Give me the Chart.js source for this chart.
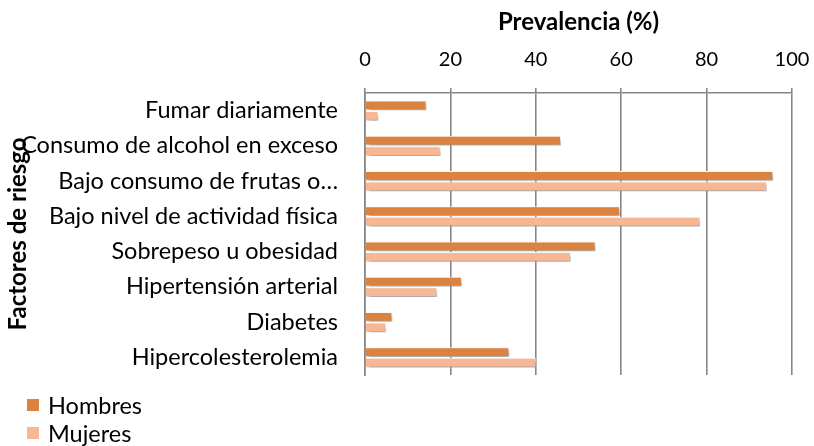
<!DOCTYPE html>
<html>
<head>
<meta charset="utf-8">
<script src="https://cdn.jsdelivr.net/npm/chart.js@4/dist/chart.umd.min.js"></script>
<style>
  html, body { margin: 0; padding: 0; background: #fff; }
  #wrap { position: relative; width: 814px; height: 446px; }
  #legend { position: absolute; left: 27px; top: 391px; font-family: Lato, sans-serif; font-size: 23.5px; color: #000; }
  .item { display: flex; align-items: center; height: 28px; }
  .sw { width: 12px; height: 12px; margin-right: 9px; }
</style>
</head>
<body>
<div id="wrap">
  <canvas id="c" width="814" height="446"></canvas>
  <div id="legend"></div>
</div>
<script>
const categories = [
  "Fumar diariamente",
  "Consumo de alcohol en exceso",
  "Bajo consumo de frutas o…",
  "Bajo nivel de actividad física",
  "Sobrepeso u obesidad",
  "Hipertensión arterial",
  "Diabetes",
  "Hipercolesterolemia"
];
const hombres = [14.4, 45.9, 95.6, 59.7, 54.0, 22.7, 6.4, 33.8];
const mujeres = [3.1, 17.7, 94.1, 78.5, 48.2, 16.9, 4.9, 40.0];
const seriesNames = ["Hombres", "Mujeres"];
const seriesColors = ["#DC823F", "#F8B692"];
const xTicks = [0, 20, 40, 60, 80, 100];

const FONT = "Lato, 'Open Sans', sans-serif";

const shadowPlugin = {
  id: 'barShadow',
  beforeDatasetsDraw(chart) {
    const ctx = chart.ctx;
    ctx.save();
    ctx.shadowColor = 'rgba(0,0,0,0.4)';
    ctx.shadowBlur = 5;
    ctx.shadowOffsetX = 2;
    ctx.shadowOffsetY = 3;
  },
  afterDatasetsDraw(chart) {
    chart.ctx.restore();
  }
};

const chart = new Chart(document.getElementById('c'), {
  type: 'bar',
  data: {
    labels: categories,
    datasets: [
      { label: seriesNames[0], data: hombres, backgroundColor: seriesColors[0], borderColor: '#fff', borderWidth: 1 },
      { label: seriesNames[1], data: mujeres, backgroundColor: seriesColors[1], borderColor: '#fff', borderWidth: 1 }
    ]
  },
  plugins: [shadowPlugin],
  options: {
    indexAxis: 'y',
    responsive: false,
    animation: false,
    maintainAspectRatio: false,
    layout: { padding: { left: 0, right: 22, top: 0, bottom: 71 } },
    datasets: { bar: { categoryPercentage: 0.6, barPercentage: 0.92 } },
    plugins: {
      legend: { display: false },
      tooltip: { enabled: false }
    },
    scales: {
      x: {
        position: 'top',
        min: 0, max: 100,
        afterBuildTicks(scale) { scale.ticks = xTicks.map(v => ({ value: v })); },
        afterFit(scale) { scale.height = 93; scale.paddingRight = 0; scale.paddingLeft = 0; },
        ticks: { color: '#000', font: { family: FONT, size: 20 }, padding: 16 },
        grid: { color: '#868686', lineWidth: 1.6, tickLength: 5, drawTicks: true },
        border: { display: true, color: '#868686', width: 1.6 },
        title: { display: true, text: 'Prevalencia (%)', color: '#000', font: { family: FONT, size: 24, weight: 'bold' }, padding: { top: 8, bottom: 0 } }
      },
      y: {
        afterFit(scale) { scale.width = 365; },
        ticks: { color: '#000', font: { family: FONT, size: 23.5 }, padding: 27 },
        grid: { display: false, drawTicks: false },
        border: { display: true, color: '#868686', width: 1.6 },
        title: { display: true, text: 'Factores de riesgo', color: '#000', font: { family: FONT, size: 24, weight: 'bold' }, padding: { top: 4, bottom: 0 } }
      }
    }
  }
});

const legendEl = document.getElementById('legend');
seriesNames.forEach((n, i) => {
  const d = document.createElement('div');
  d.className = 'item';
  d.innerHTML = '<span class="sw" style="background:' + seriesColors[i] + '"></span><span>' + n + '</span>';
  legendEl.appendChild(d);
});
</script>
</body>
</html>
